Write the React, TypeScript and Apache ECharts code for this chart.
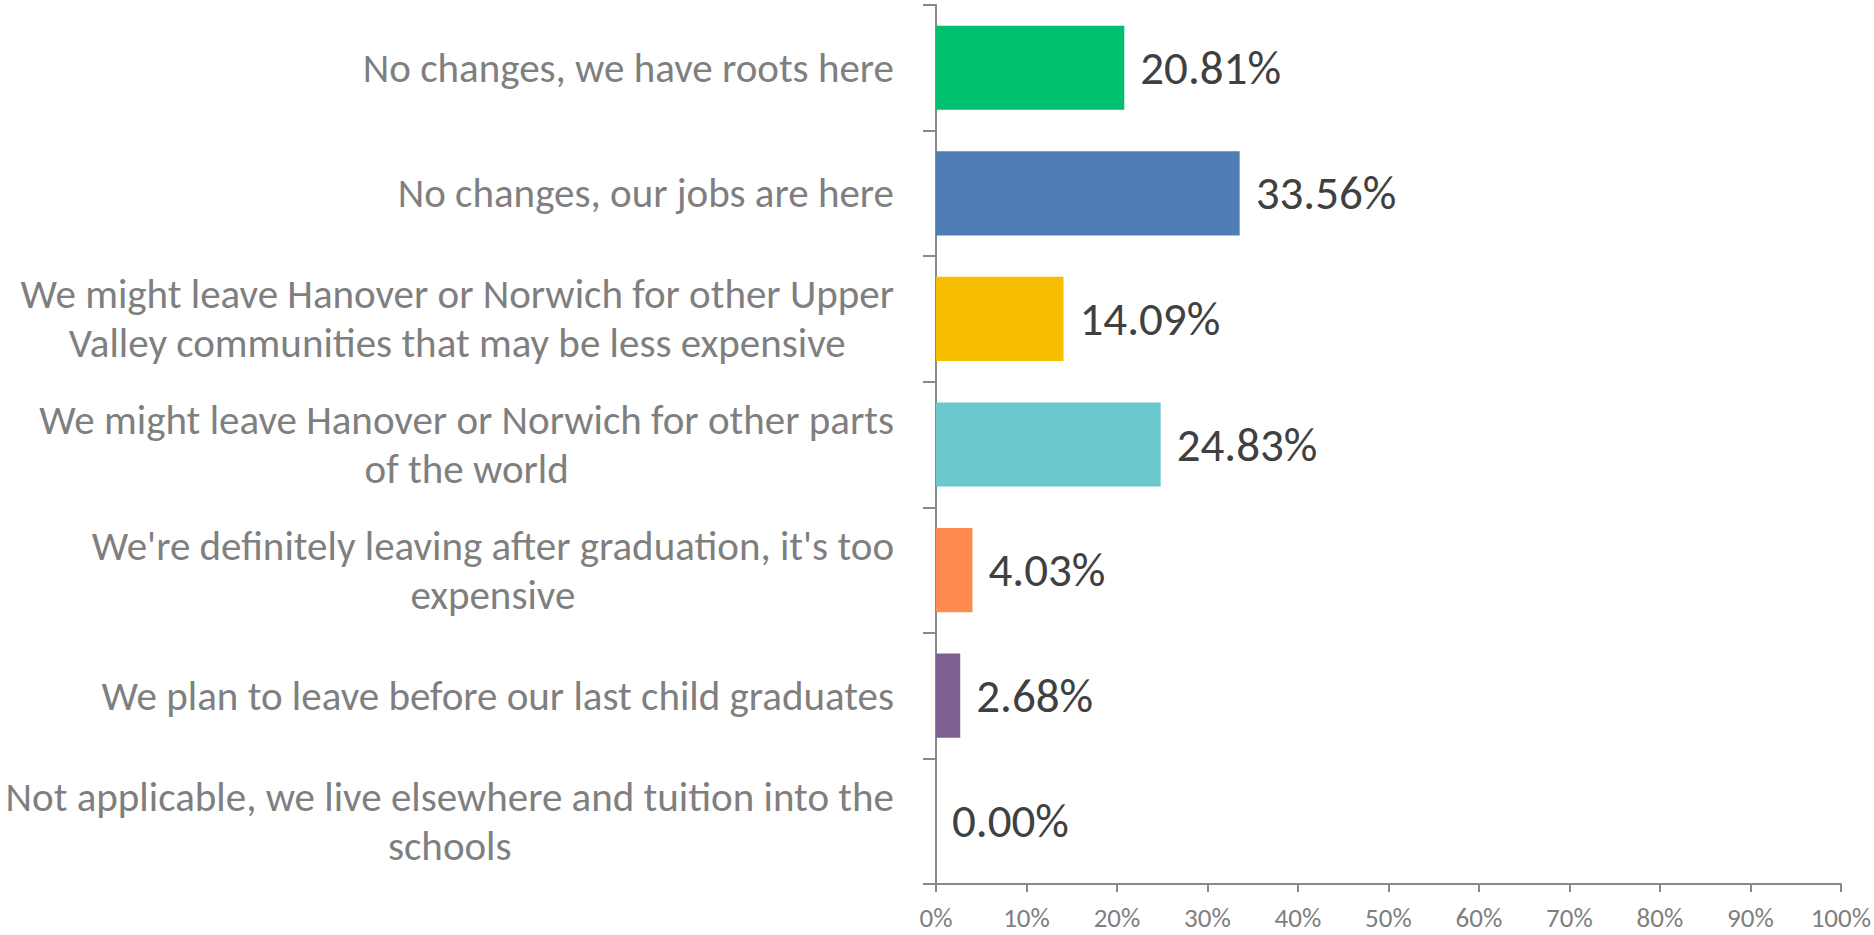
import React, { useEffect, useRef } from "react";
import * as echarts from "echarts";

const categories = [
  "No changes, we have roots here",
  "No changes, our jobs are here",
  "We might leave Hanover or Norwich for other Upper\nValley communities that may be less expensive",
  "We might leave Hanover or Norwich for other parts\nof the world",
  "We're definitely leaving after graduation, it's too\nexpensive",
  "We plan to leave before our last child graduates",
  "Not applicable, we live elsewhere and tuition into the\nschools",
];
const values = [20.81, 33.56, 14.09, 24.83, 4.03, 2.68, 0.0];
const barColors = ["#00BF6F", "#4F7CB4", "#F8BE00", "#6BC8CD", "#FF8B50", "#7F5F92", "#D25F90"];
const xTicks = [0, 10, 20, 30, 40, 50, 60, 70, 80, 90, 100];

const FONT = "Carlito, Calibri, Lato, sans-serif";

export default function App() {
  const ref = useRef<HTMLDivElement>(null);
  useEffect(() => {
    if (!ref.current) return;
    const chart = echarts.init(ref.current, null, { renderer: "svg" });
    chart.setOption({
      animation: false,
      grid: { left: 936, right: 31.5, top: 5, bottom: 51, containLabel: false },
      xAxis: {
        type: "value",
        min: xTicks[0],
        max: xTicks[xTicks.length - 1],
        interval: 10,
        splitLine: { show: false },
        axisLine: { show: true, lineStyle: { color: "#898989", width: 2 } },
        axisTick: { show: true, length: 8, lineStyle: { color: "#898989", width: 2 } },
        axisLabel: {
          formatter: "{value}%",
          color: "#7F7F7F",
          fontSize: 27,
          fontFamily: FONT,
          margin: 20,
        },
      },
      yAxis: {
        type: "category",
        inverse: true,
        data: categories,
        axisLine: { show: true, lineStyle: { color: "#898989", width: 2 } },
        axisTick: { show: true, length: 13, lineStyle: { color: "#898989", width: 2 } },
        axisLabel: {
          margin: 42,
          align: "right",
          formatter: (v: string) =>
            v
              .split("\n")
              .map((s) => "{c|" + s + "}")
              .join("\n"),
          rich: {
            c: {
              align: "center",
              fontSize: 41,
              lineHeight: 49,
              color: "#7F7F7F",
              fontFamily: FONT,
            },
          },
        },
      },
      series: [
        {
          type: "bar",
          barCategoryGap: "33%",
          data: values.map((v, i) => ({ value: v, itemStyle: { color: barColors[i] } })),
          label: {
            show: true,
            position: "right",
            distance: 16,
            formatter: (p: any) => p.value.toFixed(2) + "%",
            color: "#404040",
            fontSize: 47,
            fontFamily: FONT,
          },
        },
      ],
    });
    return () => chart.dispose();
  }, []);
  return (
    <div
      ref={ref}
      style={{ position: "fixed", left: 0, top: 0, width: 1874, height: 935, background: "#fff" }}
    />
  );
}
